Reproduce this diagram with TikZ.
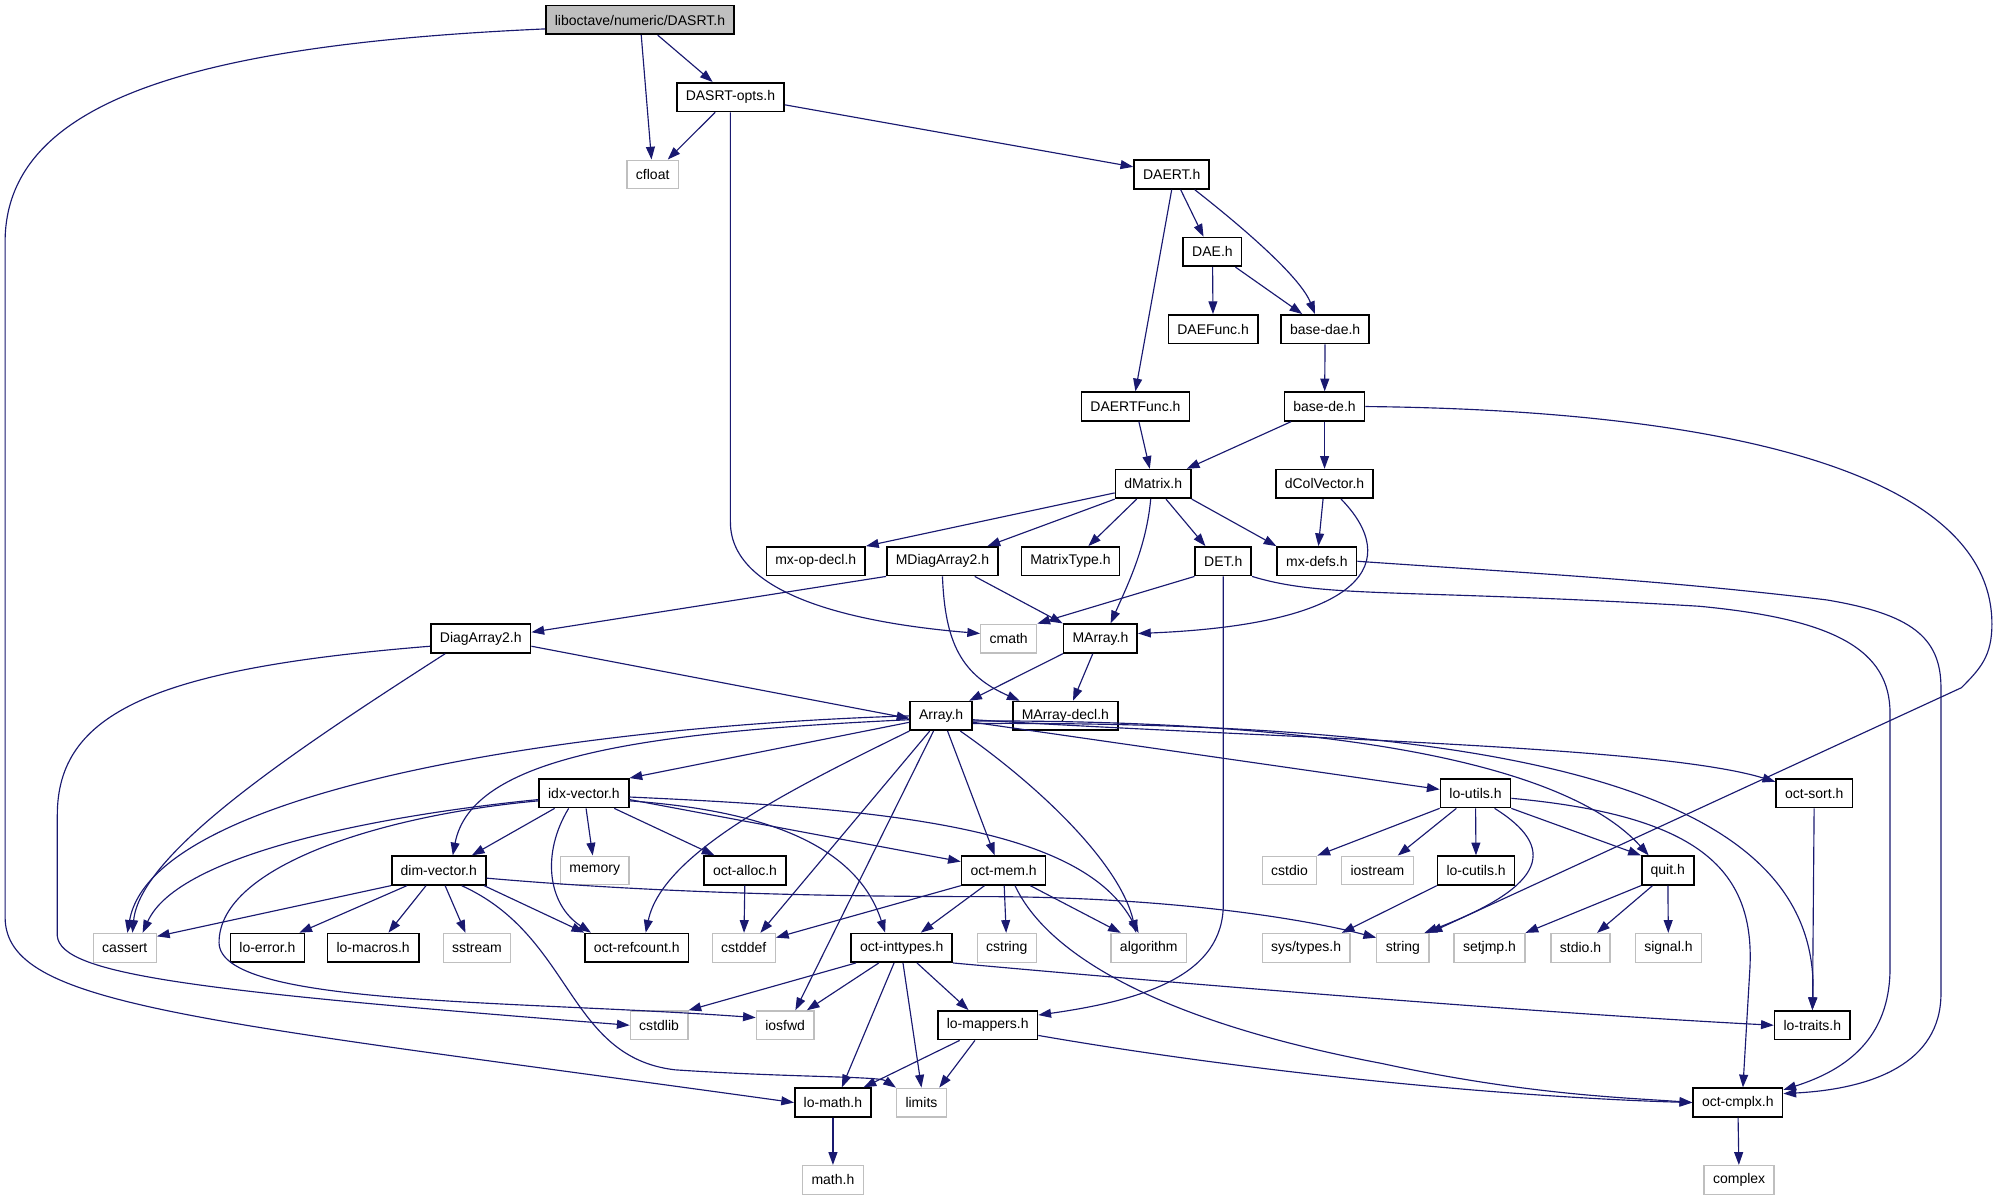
\documentclass[tikz,border=0pt]{standalone}
\usepackage{fontspec}
\setmainfont{Liberation Sans}
\usepackage{tikz}
\usetikzlibrary{arrows.meta}
\usepackage{color}
\definecolor{edgeblue}{HTML}{191970}
\definecolor{sysgray}{HTML}{BFBFBF}

\begin{document}
\begin{tikzpicture}[x=1pt,y=-1pt,
    incfile/.style={draw=black,line width=1.3pt,fill=white,minimum height=22.5pt,inner xsep=7pt,inner ysep=0pt,font=\fontsize{11}{13}\selectfont},
    sysinc/.style={incfile,draw=sysgray,line width=1pt},
    rootinc/.style={incfile,fill=sysgray},
    dep/.style={edgeblue,line width=0.9pt,-{Triangle[length=10pt,width=7pt]}}]
        \useasboundingbox (0,0) rectangle (1568,942);
        \node[rootinc] (dasrt) at (502.5,15.7) {liboctave/numeric/DASRT.h};
        \node[incfile] (dasrtopts) at (573.5,76.3) {DASRT-opts.h};
        \node[sysinc] (cfloat) at (512.5,137) {cfloat};
        \node[incfile] (daert) at (920,137) {DAERT.h};
        \node[incfile] (dae) at (952,197.8) {DAE.h};
        \node[incfile] (daefunc) at (952.5,258.5) {DAEFunc.h};
        \node[incfile] (basedae) at (1040.5,258.5) {base-dae.h};
        \node[incfile] (daertfunc) at (891.5,319.2) {DAERTFunc.h};
        \node[incfile] (basede) at (1040,319.2) {base-de.h};
        \node[incfile] (dmatrix) at (905.5,380) {dMatrix.h};
        \node[incfile] (dcolvector) at (1040,380) {dColVector.h};
        \node[incfile] (mxopdecl) at (640.5,440.7) {mx-op-decl.h};
        \node[incfile] (mdiagarray) at (740,440.7) {MDiagArray2.h};
        \node[incfile] (matrixtype) at (840.5,440.7) {MatrixType.h};
        \node[incfile] (det) at (960.5,440.7) {DET.h};
        \node[incfile] (mxdefs) at (1034,440.7) {mx-defs.h};
        \node[incfile] (diagarray) at (377.5,501.4) {DiagArray2.h};
        \node[sysinc] (cmath) at (792,501.4) {cmath};
        \node[incfile] (marray) at (864,501.4) {MArray.h};
        \node[incfile] (array) at (739,562.1) {Array.h};
        \node[incfile] (marraydecl) at (836.5,562.1) {MArray-decl.h};
        \node[incfile] (idxvector) at (458.5,622.8) {idx-vector.h};
        \node[incfile] (loutils) at (1158.5,622.8) {lo-utils.h};
        \node[incfile] (octsort) at (1424.5,622.8) {oct-sort.h};
        \node[incfile] (dimvector) at (344.5,683.5) {dim-vector.h};
        \node[sysinc] (memory) at (467,683.5) {memory};
        \node[incfile] (octalloc) at (585,683.5) {oct-alloc.h};
        \node[incfile] (octmem) at (788,683.5) {oct-mem.h};
        \node[sysinc] (cstdio) at (1012.5,683.5) {cstdio};
        \node[sysinc] (iostream) at (1081.5,683.5) {iostream};
        \node[incfile] (locutils) at (1159,683.5) {lo-cutils.h};
        \node[incfile] (quit) at (1309.5,683.5) {quit.h};
        \node[sysinc] (cassert) at (98,744.2) {cassert};
        \node[incfile] (loerror) at (210,744.2) {lo-error.h};
        \node[incfile] (lomacros) at (293,744.2) {lo-macros.h};
        \node[sysinc] (sstream) at (374.5,744.2) {sstream};
        \node[incfile] (octrefcount) at (500,744.2) {oct-refcount.h};
        \node[sysinc] (cstddef) at (584,744.2) {cstddef};
        \node[incfile] (octinttypes) at (708,744.2) {oct-inttypes.h};
        \node[sysinc] (cstring) at (790.5,744.2) {cstring};
        \node[sysinc] (algorithm) at (902,744.2) {algorithm};
        \node[sysinc] (systypes) at (1025.5,744.2) {sys/types.h};
        \node[sysinc] (string) at (1101.5,744.2) {string};
        \node[sysinc] (setjmp) at (1169.5,744.2) {setjmp.h};
        \node[sysinc] (stdioh) at (1241,744.2) {stdio.h};
        \node[sysinc] (signalh) at (1310,744.2) {signal.h};
        \node[sysinc] (cstdlib) at (517.5,805) {cstdlib};
        \node[sysinc] (iosfwd) at (616.5,805) {iosfwd};
        \node[incfile] (lomappers) at (775.5,805) {lo-mappers.h};
        \node[incfile] (lotraits) at (1423,805) {lo-traits.h};
        \node[incfile] (lomath) at (654,865.7) {lo-math.h};
        \node[sysinc] (limits) at (723.5,865.7) {limits};
        \node[incfile] (octcmplx) at (1364.5,865.7) {oct-cmplx.h};
        \node[sysinc] (mathh) at (654,926.4) {math.h};
        \node[sysinc] (complex) at (1365.5,926.4) {complex};
        \draw[dep] ([yshift=-7pt]dasrt.west) .. controls (150,35) and (4,80) .. (4,190) -- (4,720) .. controls (4,790) and (150,800) .. (lomath.west);
        \draw[dep] (dasrt) -- (cfloat);
        \draw[dep] (dasrt) -- (dasrtopts);
        \draw[dep] (dasrtopts) -- (cfloat);
        \draw[dep] (dasrtopts.south) -- (573.5,410) .. controls (573.5,470) and (680,490) .. ([yshift=4pt]cmath.west);
        \draw[dep] ([yshift=-6pt]dasrtopts.east) -- ([yshift=6pt]daert.west);
        \draw[dep] (daert.south) -- (daertfunc.north);
        \draw[dep] ([xshift=7pt]daert.south) -- ([xshift=-7pt]dae.north);
        \draw[dep] ([xshift=18pt]daert.south) .. controls (965,170) and (1020,215) .. ([xshift=-8pt]basedae.north);
        \draw[dep] (dae) -- (daefunc);
        \draw[dep] ([xshift=18pt]dae.south) -- ([xshift=-18pt]basedae.north);
        \draw[dep] (basedae) -- (basede);
        \draw[dep] (daertfunc) -- (dmatrix);
        \draw[dep] (basede) -- (dmatrix);
        \draw[dep] (basede) -- (dcolvector);
        \draw[dep] (basede.east) .. controls (1350,322) and (1564,370) .. (1564,490) .. controls (1564,515) and (1555,525) .. (1540,540) -- (string.north east);
        \draw[dep] (dcolvector) -- (mxdefs);
        \draw[dep] ([xshift=13pt]dcolvector.south) .. controls (1100,440) and (1075,490) .. ([yshift=4pt]marray.east);
        \draw[dep] ([yshift=-7pt]dmatrix.west) -- (mxopdecl.north east);
        \draw[dep] (dmatrix.south west) -- ([xshift=-9pt]mdiagarray.north east);
        \draw[dep] ([xshift=-13pt]dmatrix.south) -- ([xshift=14pt]matrixtype.north);
        \draw[dep] ([xshift=-2pt]dmatrix.south) .. controls (900,430) and (885,460) .. ([xshift=8pt]marray.north);
        \draw[dep] ([xshift=10pt]dmatrix.south) -- ([xshift=-14pt]det.north);
        \draw[dep] (dmatrix.south east) -- (mxdefs.north west);
        \draw[dep] (mdiagarray.south west) -- ([yshift=5pt]diagarray.east);
        \draw[dep] ([xshift=-19pt]mdiagarray.south east) -- (marray.north west);
        \draw[dep] (mdiagarray.south) .. controls (742,505) and (755,530) .. ([xshift=6pt]marraydecl.north west);
        \draw[dep] (det.south west) -- (cmath.north east);
        \draw[dep] (det.south) -- (960.5,710) .. controls (960.5,765) and (900,785) .. ([yshift=8pt]lomappers.east);
        \draw[dep] (det.south east) .. controls (1040,470) and (1100,462) .. (1334,476) .. controls (1440,486) and (1484,510) .. (1484,560) -- (1484,760) .. controls (1484,815) and (1450,840) .. ([yshift=10pt]octcmplx.east);
        \draw[dep] (mxdefs.east) .. controls (1200,450) and (1300,455) .. (1434,471) .. controls (1500,482) and (1524,500) .. (1524,540) -- (1524,780) .. controls (1524,835) and (1470,855) .. ([yshift=7pt]octcmplx.east);
        \draw[dep] ([xshift=-28pt]diagarray.south) .. controls (230,590) and (110,670) .. ([xshift=6pt]cassert.north);
        \draw[dep] ([yshift=-6pt]diagarray.west) .. controls (120,525) and (45,560) .. (45,640) -- (45,735) .. controls (48,765) and (150,778) .. (cstdlib.west);
        \draw[dep] ([yshift=-6pt]diagarray.east) -- ([yshift=-2pt]array.west);
        \draw[dep] (marray.south west) -- ([xshift=-3pt]array.north east);
        \draw[dep] ([xshift=-6pt]marray.south) -- ([xshift=6pt]marraydecl.north);
        \draw[dep] (array.west) .. controls (450,570) and (120,620) .. ([xshift=2pt]cassert.north);
        \draw[dep] ([yshift=-3pt]array.west) .. controls (500,575) and (370,595) .. ([xshift=11pt]dimvector.north);
        \draw[dep] ([yshift=-5pt]array.west) -- (idxvector.north east);
        \draw[dep] (array.south west) .. controls (620,620) and (520,670) .. ([xshift=7pt]octrefcount.north);
        \draw[dep] ([xshift=-9pt]array.south) -- ([xshift=13pt]cstddef.north);
        \draw[dep] ([xshift=-6pt]array.south) -- ([xshift=8pt]iosfwd.north);
        \draw[dep] ([xshift=5pt]array.south) -- ([xshift=-7pt]octmem.north);
        \draw[dep] ([xshift=15pt]array.south) .. controls (820,620) and (880,680) .. ([xshift=-10pt]algorithm.north);
        \draw[dep] ([yshift=-5pt]array.east) -- ([yshift=3pt]loutils.west);
        \draw[dep] ([yshift=-3pt]array.east) .. controls (1000,580) and (1300,585) .. ([yshift=9pt]octsort.west);
        \draw[dep] ([yshift=-4pt]array.east) .. controls (1050,565) and (1230,600) .. ([xshift=-15pt]quit.north);
        \draw[dep] ([yshift=-6pt]array.east) .. controls (1250,565) and (1430,640) .. (lotraits.north);
        \draw[dep] ([yshift=-5pt]idxvector.west) .. controls (300,640) and (140,670) .. ([xshift=14pt]cassert.north);
        \draw[dep] ([xshift=-23pt]idxvector.south) -- ([xshift=26pt]dimvector.north);
        \draw[dep] ([xshift=-12pt]idxvector.south) .. controls (425,670) and (430,710) .. ([xshift=-36pt]octrefcount.north);
        \draw[dep] (idxvector) -- (memory);
        \draw[dep] ([xshift=-12pt]idxvector.south east) -- ([xshift=-24pt]octalloc.north);
        \draw[dep] ([yshift=-6pt]idxvector.east) .. controls (580,635) and (670,655) .. ([xshift=-13pt]octinttypes.north);
        \draw[dep] ([yshift=-5pt]idxvector.east) -- ([yshift=7pt]octmem.west);
        \draw[dep] ([yshift=-3pt]idxvector.east) .. controls (700,635) and (850,650) .. ([xshift=-8pt]algorithm.north);
        \draw[dep] ([yshift=-6pt]idxvector.west) .. controls (300,640) and (172,680) .. (172,740) .. controls (172,790) and (400,785) .. ([yshift=6pt]iosfwd.west);
        \draw[dep] (dimvector.south west) -- ([yshift=9pt]cassert.east);
        \draw[dep] ([xshift=-25pt]dimvector.south) -- ([xshift=25pt]loerror.north);
        \draw[dep] ([xshift=-10pt]dimvector.south) -- ([xshift=12pt]lomacros.north);
        \draw[dep] ([xshift=5pt]dimvector.south) -- ([xshift=-9pt]sstream.north);
        \draw[dep] ([xshift=-2pt]dimvector.south east) -- (octrefcount.north west);
        \draw[dep] ([xshift=18pt]dimvector.south) .. controls (450,735) and (445,830) .. (530,840) .. controls (620,846) and (690,845) .. (limits.north west);
        \draw[dep] ([yshift=-6pt]dimvector.east) .. controls (480,698) and (600,704) .. (772,704) .. controls (900,704) and (1010,718) .. ([yshift=8pt]string.west);
        \draw[dep] (octalloc) -- (cstddef);
        \draw[dep] (octmem.south west) -- ([yshift=8pt]cstddef.east);
        \draw[dep] ([xshift=-15pt]octmem.south) -- ([xshift=15pt]octinttypes.north);
        \draw[dep] (octmem) -- (cstring);
        \draw[dep] ([xshift=21pt]octmem.south) -- ([xshift=-22pt]algorithm.north);
        \draw[dep] ([xshift=9pt]octmem.south) .. controls (820,745) and (900,800) .. (1085,835) .. controls (1200,860) and (1280,862) .. (octcmplx.west);
        \draw[dep] ([xshift=-36pt]octinttypes.south) -- (cstdlib.north east);
        \draw[dep] ([xshift=-18pt]octinttypes.south) -- ([xshift=17pt]iosfwd.north);
        \draw[dep] ([xshift=-6pt]octinttypes.south) -- ([xshift=7pt]lomath.north);
        \draw[dep] ([xshift=1pt]octinttypes.south) -- (limits.north);
        \draw[dep] ([xshift=12pt]octinttypes.south) -- ([xshift=-15pt]lomappers.north);
        \draw[dep] (octinttypes.south east) .. controls (900,770) and (1200,795) .. (lotraits.west);
        \draw[dep] ([xshift=-22pt]lomappers.south) -- ([xshift=24pt]lomath.north);
        \draw[dep] ([xshift=-10pt]lomappers.south) -- ([xshift=14pt]limits.north);
        \draw[dep] ([yshift=-8pt]lomappers.east) .. controls (1000,845) and (1200,862) .. (octcmplx.west);
        \draw[dep] (lomath) -- (mathh);
        \draw[dep] (octcmplx) -- (complex);
        \draw[dep] (loutils.south west) -- (cstdio.north east);
        \draw[dep] ([xshift=-15pt]loutils.south) -- ([xshift=16pt]iostream.north);
        \draw[dep] (loutils) -- (locutils);
        \draw[dep] ([xshift=15pt]loutils.south) .. controls (1222,665) and (1216,695) .. ([xshift=-4pt]string.north east);
        \draw[dep] (loutils.south east) -- (quit.north west);
        \draw[dep] ([yshift=-4pt]loutils.east) .. controls (1330,640) and (1378,680) .. (1374,760) -- ([xshift=4pt]octcmplx.north);
        \draw[dep] (locutils.south west) -- ([xshift=-7pt]systypes.north east);
        \draw[dep] (quit.south west) -- (setjmp.north east);
        \draw[dep] ([xshift=-12pt]quit.south) -- ([xshift=13pt]stdioh.north);
        \draw[dep] (quit) -- (signalh);
        \draw[dep] (octsort) -- (lotraits);
    \end{tikzpicture}
\end{document}
